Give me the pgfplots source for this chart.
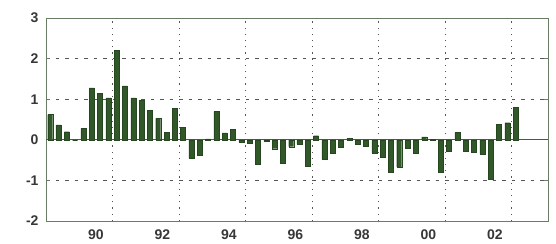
\documentclass[border=0pt]{standalone}
\usepackage{fontspec}
\setmainfont{Liberation Sans}
\usepackage{pgfplots}
\pgfplotsset{compat=1.18}
\definecolor{barg}{RGB}{48,88,40}
\definecolor{frameg}{RGB}{105,125,100}
\definecolor{zerog}{RGB}{60,100,50}
\definecolor{gridc}{RGB}{85,85,85}
\definecolor{txt}{RGB}{55,55,55}
\begin{document}
\begin{tikzpicture}
\begin{axis}[
  name=ax,
  scale only axis,
  width=502pt, height=203pt,
  xmin=1989, xmax=2004.1,
  ymin=-2, ymax=3,
  axis line style={frameg, line width=0.9pt},
  ytick={-2,-1,0,1,2,3},
  yticklabels={-2,-1,0,1,2,3},
  ymajorgrids,
  major grid style={gridc, dash pattern=on 3.5pt off 6pt, line width=0.7pt},
  ytick style={frameg, line width=0.8pt},
  major tick length=4pt,
  xtick={1990.5,1992.5,1994.5,1996.5,1998.5,2000.5,2002.5},
  xticklabels={90,92,94,96,98,00,02},
  xtick style={draw=none},
  minor xtick={1990,1991,1992,1993,1994,1995,1996,1997,1998,1999,2000,2001,2002,2003},
  minor tick length=4pt,
  minor x tick style={frameg, line width=0.8pt},
  extra x ticks={1991,1993,1995,1997,1999,2001,2003},
  extra x tick labels={},
  extra x tick style={grid=major, major grid style={gridc, dash pattern=on 1.2pt off 5pt, line width=0.8pt}, tick style={draw=none}},
  extra y ticks={0},
  extra y tick labels={},
  extra y tick style={grid=major, major grid style={zerog, solid, line width=1pt}, tick style={draw=none}},
  ticklabel style={font=\fontsize{14}{16}\selectfont\bfseries, text=txt},
  yticklabel style={xshift=-4pt},
  xticklabel style={yshift=-1pt},
  ybar, bar width=5pt, bar shift=0pt,
]
\addplot[fill=barg, draw=barg!80!black, line width=0.3pt] coordinates {
(1989.125,0.62) (1989.375,0.37) (1989.625,0.20) (1989.875,0)
(1990.125,0.28) (1990.375,1.28) (1990.625,1.15) (1990.875,1.03)
(1991.125,2.20) (1991.375,1.33) (1991.625,1.03) (1991.875,0.97)
(1992.125,0.72) (1992.375,0.53) (1992.625,0.18) (1992.875,0.78)
(1993.125,0.30) (1993.375,-0.46) (1993.625,-0.37) (1993.875,0.02)
(1994.125,0.70) (1994.375,0.17) (1994.625,0.25) (1994.875,-0.05)
(1995.125,-0.08) (1995.375,-0.60) (1995.625,-0.04) (1995.875,-0.22)
(1996.125,-0.58) (1996.375,-0.17) (1996.625,-0.10) (1996.875,-0.65)
(1997.125,0.10) (1997.375,-0.48) (1997.625,-0.34) (1997.875,-0.19)
(1998.125,0.03) (1998.375,-0.10) (1998.625,-0.16) (1998.875,-0.33)
(1999.125,-0.42) (1999.375,-0.80) (1999.625,-0.67) (1999.875,-0.20)
(2000.125,-0.33) (2000.375,0.07) (2000.625,0.01) (2000.875,-0.80)
(2001.125,-0.28) (2001.375,0.18) (2001.625,-0.27) (2001.875,-0.30)
(2002.125,-0.35) (2002.375,-0.96) (2002.625,0.38) (2002.875,0.42)
(2003.125,0.80)
};
\end{axis}
\path ([shift={(-46pt,-23pt)}]ax.south west) rectangle ([shift={(8pt,18pt)}]ax.north east);
\end{tikzpicture}
\end{document}
